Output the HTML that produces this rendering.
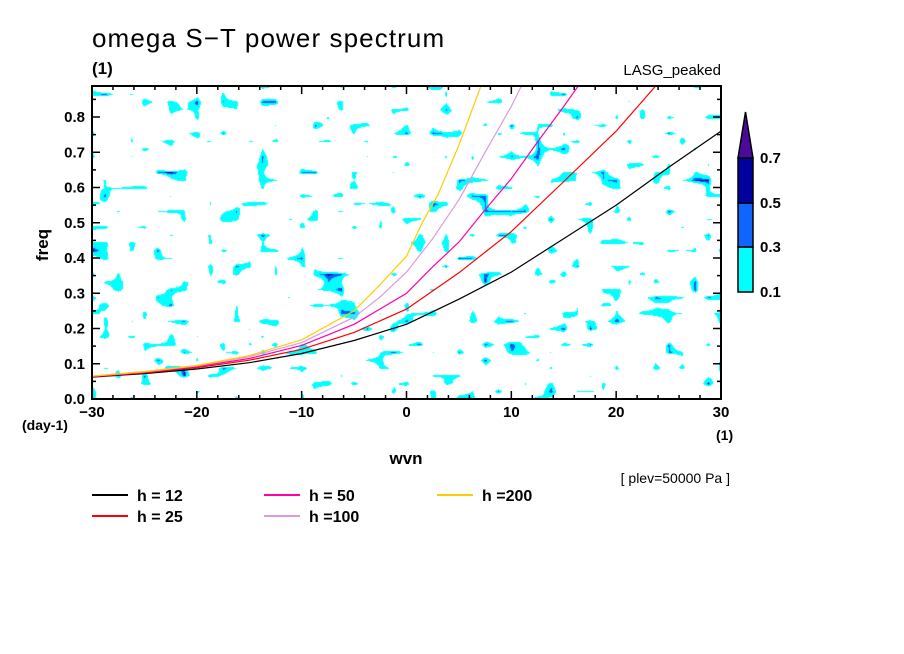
<!DOCTYPE html>
<html><head><meta charset="utf-8">
<style>
html,body{margin:0;padding:0;background:#fff;}
#root{position:relative;width:904px;height:654px;overflow:hidden;font-family:"Liberation Sans",sans-serif;}
svg text{font-family:"Liberation Sans",sans-serif;}
</style></head>
<body>
<div id="root">
<canvas id="field" width="629" height="313" style="position:absolute;left:92px;top:86px;"></canvas>
<svg id="svg" width="904" height="654" style="position:absolute;left:0;top:0;"></svg>
</div>
<script>
// ---- data ----
const wvnTicks = [-30,-20,-10,0,10,20,30];
const freqTicks = [0.0,0.1,0.2,0.3,0.4,0.5,0.6,0.7,0.8];
const levelLabels = ["0.1","0.3","0.5","0.7"];
const curveNames = ["h = 12","h = 25","h = 50","h =100","h =200"];
const curveColors = ["#000000","#ff0000","#ff00aa","#dd99dd","#ffcc00"];
const h12W = [-30,-25,-20,-15,-10,-5,0,5,10,15,20,25,30];
const h12F = [0.062,0.072,0.085,0.103,0.129,0.166,0.212,0.283,0.36,0.455,0.55,0.657,0.76];
const h25W = [-30,-25,-20,-15,-10,-5,0,5,10,15,20,25];
const h25F = [0.063,0.074,0.089,0.11,0.141,0.189,0.255,0.358,0.475,0.617,0.76,0.93];
const h50W = [-30,-25,-20,-15,-10,-5,0,2.5,5,7.5,10,12.5,15,20];
const h50F = [0.064,0.076,0.092,0.115,0.152,0.212,0.30,0.375,0.445,0.537,0.625,0.729,0.83,1.04];
const h100W = [-30,-25,-20,-15,-10,-5,-2.5,0,2.5,5,7.5,10,12];
const h100F = [0.065,0.077,0.094,0.12,0.16,0.232,0.29,0.36,0.455,0.565,0.70,0.83,0.95];
const h200W = [-30,-25,-20,-15,-10,-5,-2.5,0,1.5,3,5,6,7,8];
const h200F = [0.065,0.078,0.095,0.123,0.168,0.25,0.325,0.405,0.50,0.58,0.72,0.80,0.88,0.96];

const X0=92,X1=721,Y0=399,Y1=86;
const sx=v=>X0+(v+30)/60*(X1-X0);
const sy=f=>Y0-f/0.1*35.25;
const NS="http://www.w3.org/2000/svg";
const svg=document.getElementById('svg');
function mk(tag,attrs,parent){const e=document.createElementNS(NS,tag);for(const k in attrs)e.setAttribute(k,attrs[k]);(parent||svg).appendChild(e);return e;}

// ---- noise field (background texture) ----
(function(){
  const cv=document.getElementById('field');const ctx=cv.getContext('2d');
  const W=cv.width,H=cv.height;const img=ctx.createImageData(W,H);
  let s=97531;const rnd=()=>{s=(s*1103515245+12345)&0x7fffffff;return s/0x7fffffff;};
  const GX=48,GY=40;const g=[];
  for(let j=0;j<=GY;j++){g.push([]);for(let i=0;i<=GX;i++)g[j].push(rnd());}
  for(let y=0;y<H;y++){for(let x=0;x<W;x++){
    const fx=x/W*GX,fy=y/H*GY;const i=Math.floor(fx),j=Math.floor(fy);const u=fx-i,v=fy-j;
    const a=g[j][i],b=g[j][i+1],c=g[j+1][i],d=g[j+1][i+1];
    const val=a*(1-u)*(1-v)+b*u*(1-v)+c*(1-u)*v+d*u*v;
    let col=null;
    if(val>0.975)col=[0,0,160];else if(val>0.93)col=[16,96,255];else if(val>0.79)col=[0,255,255];
    const p=(y*W+x)*4;
    if(col){img.data[p]=col[0];img.data[p+1]=col[1];img.data[p+2]=col[2];}else{img.data[p]=255;img.data[p+1]=255;img.data[p+2]=255;}
    img.data[p+3]=255;
  }}
  ctx.putImageData(img,0,0);
})();

// ---- curves ----
const clip=mk('clipPath',{id:'pc'});mk('rect',{x:X0,y:Y1,width:X1-X0,height:Y0-Y1},clip);
const series=[[h12W,h12F],[h25W,h25F],[h50W,h50F],[h100W,h100F],[h200W,h200F]];
const curveIds=["curve-h12","curve-h25","curve-h50","curve-h100","curve-h200"];
series.forEach((sr,k)=>{
  let d='';sr[0].forEach((w,i)=>{d+=(i?'L':'M')+sx(w).toFixed(1)+','+sy(sr[1][i]).toFixed(1);});
  const p=mk('path',{d:d,fill:'none',stroke:curveColors[k],'stroke-width':1.2,'clip-path':'url(#pc)','stroke-linejoin':'round'});
  
  
});

// ---- frame & ticks ----
const fr=mk('rect',{x:X0,y:Y1,width:X1-X0,height:Y0-Y1,fill:'none',stroke:'#000','stroke-width':2});


for(let w=-30;w<=30;w+=2){const x=sx(w);const L=(w%10===0)?8:4;
  mk('line',{x1:x,y1:Y0,x2:x,y2:Y0-L,stroke:'#000','stroke-width':1.5});
  mk('line',{x1:x,y1:Y1,x2:x,y2:Y1+L,stroke:'#000','stroke-width':1.5});}
for(let k=0;k<=17;k++){const f=k*0.05;const y=sy(f);if(y<Y1)continue;const L=(k%2===0)?8:4;
  mk('line',{x1:X0,y1:y,x2:X0+L,y2:y,stroke:'#000','stroke-width':1.5});
  mk('line',{x1:X1,y1:y,x2:X1-L,y2:y,stroke:'#000','stroke-width':1.5});}
wvnTicks.forEach(w=>{const t=mk('text',{x:sx(w),y:417,'text-anchor':'middle','font-size':15,'font-weight':'bold'});t.textContent=(w<0?'\u2212':'')+Math.abs(w);
  
  });
freqTicks.forEach(f=>{const t=mk('text',{x:85,y:sy(f)+5,'text-anchor':'end','font-size':15,'font-weight':'bold'});t.textContent=f.toFixed(1);
  
  });

// ---- colorbar ----
const cbX=738,cbW=15;
const cbCols=["#00ffff","#1064ff","#0000a0"];const cbY=[292,247,203,158];
for(let i=0;i<3;i++){const r=mk('rect',{x:cbX,y:cbY[i+1],width:cbW,height:cbY[i]-cbY[i+1],fill:cbCols[i],stroke:'#000','stroke-width':1.5});
  
  }
const tri=mk('path',{d:`M${cbX},158L${cbX+cbW/2},112L${cbX+cbW},158Z`,fill:'#4b0a9a',stroke:'#000','stroke-width':1.5});


levelLabels.forEach((l,i)=>{const t=mk('text',{x:760,y:cbY[i]+5,'font-size':15,'font-weight':'bold'});t.textContent=l;
  
  });

// ---- legend ----
const lx=[92,264,437],tx=[137,309,482],ly=[495,516];
const pos=[[0,0],[0,1],[1,0],[1,1],[2,0]];
curveNames.forEach((n,k)=>{const c=pos[k][0],r=pos[k][1];
  const g=mk('g',{});
  
  
  mk('line',{x1:lx[c],y1:ly[r],x2:lx[c]+36,y2:ly[r],stroke:curveColors[k],'stroke-width':2},g);
  const t=mk('text',{x:tx[c],y:ly[r]+6,'font-size':16,'font-weight':'bold'},g);t.textContent=n;});
</script>
<svg width="904" height="654" style="position:absolute;left:0;top:0;pointer-events:none">
<text x="92" y="47" font-size="26" letter-spacing="1.1">omega S−T power spectrum</text>
<text x="92" y="74" font-size="17" font-weight="bold">(1)</text>
<text x="721" y="75" font-size="15" text-anchor="end">LASG_peaked</text>
<text x="22" y="430" font-size="14" font-weight="bold">(day-1)</text>
<text x="716" y="440" font-size="14" font-weight="bold">(1)</text>
<text x="406" y="464" font-size="17" font-weight="bold" text-anchor="middle">wvn</text>
<text x="48" y="245" font-size="17" font-weight="bold" text-anchor="middle" transform="rotate(-90 48 245)">freq</text>
<text x="730" y="483" font-size="14" text-anchor="end">[ plev=50000 Pa ]</text>
</svg>
</body></html>
